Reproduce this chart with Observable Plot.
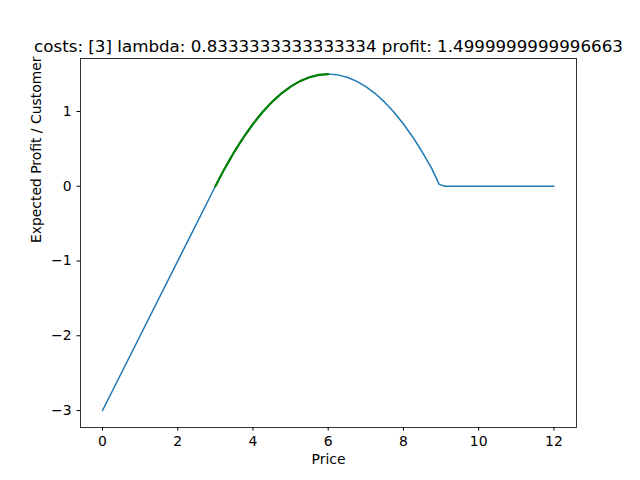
<!DOCTYPE html>
<html><head><meta charset="utf-8">
<script src="https://cdn.jsdelivr.net/npm/d3@7"></script>
<script src="https://cdn.jsdelivr.net/npm/@observablehq/plot@0.6"></script>
<style>body{margin:0;background:#fff}svg{font-family:"DejaVu Sans",sans-serif}</style>
</head><body><div id="c"></div>
<script>
const prices = [0, 3, 3.25, 3.5, 3.75, 4, 4.25, 4.5, 4.75, 5, 5.25, 5.5, 5.75, 6, 6.25, 6.5, 6.75, 7, 7.25, 7.5, 7.75, 8, 8.25, 8.5, 8.75, 8.95, 9.1, 12];
const profits = [-3, 0, 0.240, 0.458, 0.656, 0.833, 0.990, 1.125, 1.240, 1.333, 1.406, 1.458, 1.490, 1.5, 1.490, 1.458, 1.406, 1.333, 1.240, 1.125, 0.990, 0.833, 0.656, 0.458, 0.240, 0.025, 0, 0];
const optPrices = [3, 3.25, 3.5, 3.75, 4, 4.25, 4.5, 4.75, 5, 5.25, 5.5, 5.75, 6];
const optProfits = [0, 0.240, 0.458, 0.656, 0.833, 0.990, 1.125, 1.240, 1.333, 1.406, 1.458, 1.490, 1.5];
const xTicks = [0, 2, 4, 6, 8, 10, 12];
const yTicks = [-3, -2, -1, 0, 1];
const title = "costs: [3] lambda: 0.8333333333333334 profit: 1.4999999999996663";

const main = prices.map((p, i) => ({p, v: profits[i]}));
const opt = optPrices.map((p, i) => ({p, v: optProfits[i]}));

const chart = Plot.plot({
  width: 640, height: 480,
  marginLeft: 80, marginRight: 64, marginTop: 58, marginBottom: 53,
  style: {fontSize: "13.9px", fontFamily: "DejaVu Sans", color: "#000"},
  x: {domain: [-0.585, 12.6], ticks: xTicks, tickSize: 3.5, label: null, tickFormat: d3.format("d")},
  y: {domain: [-3.227, 1.709], ticks: yTicks, tickSize: 3.5, label: null, tickFormat: d3.format("d")},
  marks: [
    Plot.frame({stroke: "#000", strokeWidth: 0.8}),
    Plot.line(main, {x: "p", y: "v", stroke: "#1f77b4", strokeWidth: 1.5}),
    Plot.line(opt, {x: "p", y: "v", stroke: "green", strokeWidth: 2.2, strokeDasharray: "6,1"}),
    Plot.text([title], {frameAnchor: "top", dy: -7, text: d => d, fontSize: 16.7, lineAnchor: "bottom"}),
    Plot.text(["Price"], {frameAnchor: "bottom", dy: 36, text: d => d, fontSize: 13.9}),
    Plot.text(["Expected Profit / Customer"], {frameAnchor: "left", dx: -44, rotate: -90, text: d => d, fontSize: 13.9})
  ]
});
document.getElementById("c").append(chart);
</script></body></html>
